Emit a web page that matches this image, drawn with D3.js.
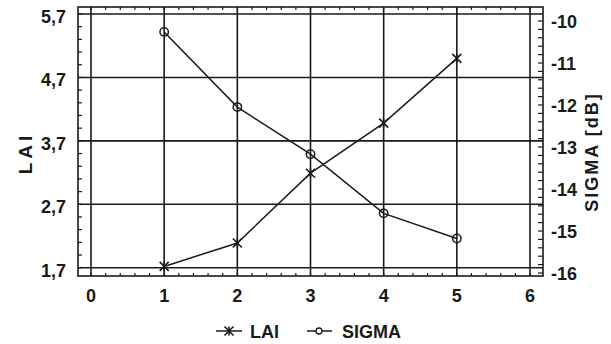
<!DOCTYPE html>
<html><head><meta charset="utf-8">
<script src="https://cdn.jsdelivr.net/npm/d3@7"></script>
<style>body{margin:0;background:#fff}svg{display:block}text{font-family:"Liberation Sans",Arial,sans-serif;fill:#1a1a1a}</style>
</head><body>
<script>
const xValues = [1, 2, 3, 4, 5];
const laiValues = [1.72, 2.09, 3.19, 3.98, 5.0];
const sigmaValues = [-10.26, -12.05, -13.17, -14.58, -15.18];
const xTicks = [0, 1, 2, 3, 4, 5, 6];
const laiTicks = [1.7, 2.7, 3.7, 4.7, 5.7];
const sigmaTicks = [-10, -11, -12, -13, -14, -15, -16];

const W = 611, H = 344;
const frame = {l: 78, r: 543, t: 7, b: 276};
const ink = "#1a1a1a";
const svg = d3.select("body").append("svg").attr("width", W).attr("height", H);

const x = d3.scaleLinear().domain([0, 6]).range([91, 530]);
const yL = d3.scaleLinear().domain([1.7, 5.7]).range([267.7, 14]);
const yR = d3.scaleLinear().domain([-16, -10]).range([273, 21]);

// minor ticks
const minorX = d3.range(-0.2 + 0.0001, 6.2, 0.2).map(v => Math.round(v * 10) / 10).filter(v => x(v) > frame.l + 1 && x(v) < frame.r - 1);
const minorL = d3.range(1.7, 5.75, 0.2).map(v => Math.round(v * 10) / 10);
const minorR = d3.range(-16, -9.95, 0.2).map(v => Math.round(v * 10) / 10);

const g = svg.append("g").attr("stroke", ink).attr("fill", "none");
g.selectAll(".mxb").data(minorX).join("line")
  .attr("x1", d => x(d)).attr("x2", d => x(d)).attr("y1", frame.b).attr("y2", frame.b - 3).attr("stroke-width", 1.2);
g.selectAll(".mxt").data(minorX).join("line")
  .attr("x1", d => x(d)).attr("x2", d => x(d)).attr("y1", frame.t).attr("y2", frame.t + 3).attr("stroke-width", 1.2);
g.selectAll(".ml").data(minorL).join("line")
  .attr("x1", frame.l).attr("x2", frame.l + 4).attr("y1", d => yL(d)).attr("y2", d => yL(d)).attr("stroke-width", 1.2);
g.selectAll(".mr").data(minorR).join("line")
  .attr("x1", frame.r).attr("x2", frame.r - 5).attr("y1", d => yR(d)).attr("y2", d => yR(d)).attr("stroke-width", 1.2);

// grid
g.selectAll(".gx").data(xTicks).join("line")
  .attr("x1", d => x(d)).attr("x2", d => x(d)).attr("y1", frame.t).attr("y2", frame.b).attr("stroke-width", 1.6);
g.selectAll(".gy").data(laiTicks).join("line")
  .attr("x1", frame.l).attr("x2", frame.r).attr("y1", d => yL(d)).attr("y2", d => yL(d)).attr("stroke-width", 1.6);
// frame
g.append("rect").attr("x", frame.l).attr("y", frame.t).attr("width", frame.r - frame.l).attr("height", frame.b - frame.t).attr("stroke-width", 1.6);

// tick labels
const fs = 18;
svg.selectAll(".tx").data(xTicks).join("text")
  .attr("x", d => x(d)).attr("y", 302).attr("text-anchor", "middle").attr("font-size", fs).attr("font-weight", "bold").text(d => d);
svg.selectAll(".tl").data(laiTicks).join("text")
  .attr("x", 66).attr("y", d => yL(d) + 9).attr("text-anchor", "end").attr("font-size", fs).attr("font-weight", "bold").text(d => d3.format(".1f")(d).replace(".", ","));
svg.selectAll(".tr").data(sigmaTicks).join("text")
  .attr("x", 551).attr("y", d => yR(d) + 6.5).attr("text-anchor", "start").attr("font-size", fs).attr("font-weight", "bold").text(d => "-" + Math.abs(d));

// axis titles
svg.append("text").attr("transform", "translate(32,153) rotate(-90)").attr("text-anchor", "middle")
  .attr("font-size", 19).attr("font-weight", "bold").attr("letter-spacing", 4).text("LAI");
svg.append("text").attr("transform", "translate(598,152) rotate(-90)").attr("text-anchor", "middle")
  .attr("font-size", 18).attr("font-weight", "bold").attr("letter-spacing", 2).text("SIGMA [dB]");

// lines
const laiData = xValues.map((v, i) => [v, laiValues[i]]);
const sigData = xValues.map((v, i) => [v, sigmaValues[i]]);
const lineL = d3.line().x(d => x(d[0])).y(d => yL(d[1]));
const lineR = d3.line().x(d => x(d[0])).y(d => yR(d[1]));
svg.append("path").attr("d", lineL(laiData)).attr("fill", "none").attr("stroke", ink).attr("stroke-width", 1.5);
svg.append("path").attr("d", lineR(sigData)).attr("fill", "none").attr("stroke", ink).attr("stroke-width", 1.5);

function drawStar(sel, cx, cy) {
  const s = 4.5;
  const gg = sel.append("g").attr("stroke", ink).attr("stroke-width", 1.6);
  gg.append("line").attr("x1", cx - s).attr("x2", cx + s).attr("y1", cy - s).attr("y2", cy + s);
  gg.append("line").attr("x1", cx - s).attr("x2", cx + s).attr("y1", cy + s).attr("y2", cy - s);
  gg.append("line").attr("x1", cx).attr("x2", cx).attr("y1", cy - s).attr("y2", cy + s);
}
laiData.forEach(d => drawStar(svg, x(d[0]), yL(d[1])));
svg.selectAll(".cs").data(sigData).join("circle")
  .attr("cx", d => x(d[0])).attr("cy", d => yR(d[1])).attr("r", 4.2)
  .attr("fill", "none").attr("stroke", ink).attr("stroke-width", 1.5);

// legend
const ly = 331;
svg.append("line").attr("x1", 216).attr("x2", 242).attr("y1", ly).attr("y2", ly).attr("stroke", ink).attr("stroke-width", 1.5);
drawStar(svg, 229, ly);
svg.append("text").attr("x", 250).attr("y", ly + 7).attr("font-size", 18).attr("font-weight", "bold").text("LAI");
svg.append("line").attr("x1", 307).attr("x2", 332).attr("y1", ly).attr("y2", ly).attr("stroke", ink).attr("stroke-width", 1.5);
svg.append("circle").attr("cx", 319).attr("cy", ly).attr("r", 3).attr("fill", "#fff").attr("stroke", ink).attr("stroke-width", 1.3);
svg.append("text").attr("x", 342).attr("y", ly + 7).attr("font-size", 18).attr("font-weight", "bold").text("SIGMA");
</script>
</body></html>
